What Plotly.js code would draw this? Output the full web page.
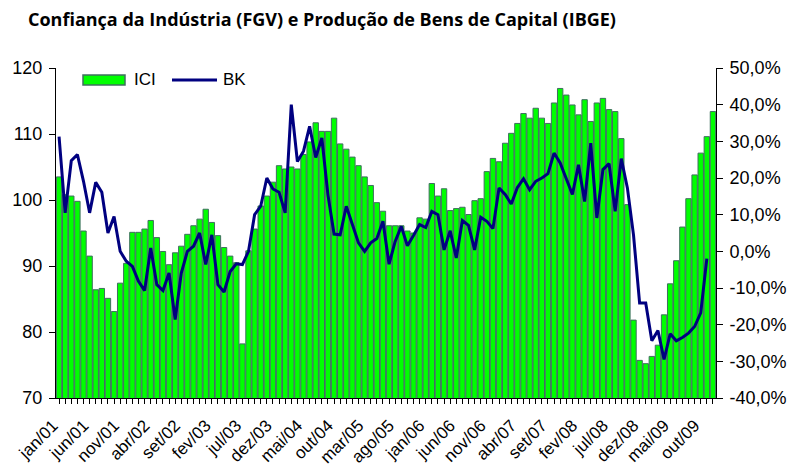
<!DOCTYPE html>
<html>
<head>
<meta charset="utf-8">
<script src="https://cdn.plot.ly/plotly-3.0.1.min.js"></script>
<style>html,body{margin:0;padding:0;background:#fff;}#chart{width:788px;height:468px;}</style>
</head>
<body>
<div id="chart"></div>
<script>
// Month names and years used to build the monthly categories (jan/01 .. dez/09)
var monthNames = ["jan","fev","mar","abr","mai","jun","jul","ago","set","out","nov","dez"];
var years = ["01","02","03","04","05","06","07","08","09"];

// ICI - Índice de Confiança da Indústria (FGV), left axis
var ici = [
  103.5,100.8,100.6,99.8,95.3,91.5,86.4,86.6,85.1,83.1,87.4,90.4,
  95.1,95.1,95.6,96.9,94.3,92.2,90.2,92.0,93.0,94.8,96.1,97.1,
  98.6,96.6,94.6,92.8,91.5,90.5,78.2,92.3,95.6,99.1,100.6,102.7,
  105.2,104.7,105.0,104.7,106.9,108.8,111.7,110.4,110.4,112.4,108.5,107.7,
  106.5,105.2,103.5,102.2,99.6,98.3,96.1,96.1,96.1,95.3,95.0,97.3,
  97.1,102.5,100.6,101.7,98.4,98.7,98.9,97.8,99.9,100.2,104.3,106.3,
  105.8,108.6,110.1,111.6,113.1,112.4,113.9,112.4,111.6,114.7,116.9,115.9,
  114.4,112.9,115.2,111.9,114.7,115.4,113.7,113.4,109.3,99.3,81.8,75.7,
  75.2,76.3,78.0,82.6,87.3,90.8,95.9,100.2,103.8,107.1,109.6,113.4
];

// BK - Produção de Bens de Capital (IBGE), % change, right axis (no value for dez/09)
var bk = [
  31.3,10.5,24.7,26.4,19.1,10.5,18.8,16.1,5.0,9.5,0.0,-2.7,
  -4.1,-8.2,-10.7,0.9,-9.1,-10.7,-5.9,-18.6,-5.9,0.0,1.4,5.0,
  -3.6,4.5,-9.1,-11.1,-5.5,-3.4,-3.6,0.0,10.0,12.3,20.0,17.0,
  16.1,10.5,40.0,24.5,27.3,34.1,25.6,30.9,15.4,4.7,4.5,12.3,
  7.3,2.3,0.0,2.3,3.5,8.2,-3.5,2.7,6.8,1.5,4.3,7.3,
  6.5,10.9,10.0,0.4,5.6,-1.8,8.4,7.1,0.4,9.3,8.2,6.2,
  17.3,15.5,12.9,17.4,19.8,16.8,19.1,20.0,21.2,26.8,24.1,19.5,
  15.5,23.6,13.6,29.5,9.1,22.3,23.9,10.9,25.3,17.3,4.5,-14.1,
  -14.1,-24.4,-21.6,-29.5,-22.5,-24.4,-23.5,-22.3,-20.5,-16.8,-2.0,null
];

// Tick labels shown on the category axis (every 5 months)
var xTickLabels = ["jan/01","jun/01","nov/01","abr/02","set/02","fev/03","jul/03","dez/03",
  "mai/04","out/04","mar/05","ago/05","jan/06","jun/06","nov/06","abr/07","set/07",
  "fev/08","jul/08","dez/08","mai/09","out/09"];

var leftTicks = [70,80,90,100,110,120];
var rightTicks = [-40,-30,-20,-10,0,10,20,30,40,50];
var rightTickLabels = ["-40,0%","-30,0%","-20,0%","-10,0%","0,0%","10,0%","20,0%","30,0%","40,0%","50,0%"];

var seriesNames = ["ICI","BK"];
var barColor = "#00FF00", barEdge = "#3F6F5F", lineColor = "#000080";

var categories = [];
years.forEach(function(y){ monthNames.forEach(function(m){ categories.push(m + "/" + y); }); });
var tickText = categories.map(function(c){ return xTickLabels.indexOf(c) >= 0 ? c : ""; });

var fontFam = "Liberation Sans, Arial, sans-serif";
var tickFont = {family: fontFam, size: 18, color: "#000"};
var xTickFont = {family: fontFam, size: 17, color: "#000"};

var traces = [
  {
    type: "bar", name: seriesNames[0], x: categories, y: ici,
    marker: {color: barColor, line: {color: barEdge, width: 1}},
    yaxis: "y", showlegend: false
  },
  {
    type: "scatter", mode: "lines", name: seriesNames[1], x: categories, y: bk,
    line: {color: lineColor, width: 3}, yaxis: "y2", connectgaps: false, showlegend: false
  }
];

// plot-area geometry helpers for the hand-drawn legend (paper coordinates)
var L = 56, R = 716, T = 68, B = 398.5;
function px(x){ return (x - L) / (R - L); }
function py(y){ return (B - y) / (B - T); }

var layout = {
  width: 788, height: 468,
  margin: {l: 56, r: 72, t: 68, b: 69.5, pad: 0},
  paper_bgcolor: "#fff", plot_bgcolor: "#fff",
  bargap: 0.12,
  showlegend: false,
  title: {
    text: "Confiança da Indústria (FGV) e Produção de Bens de Capital (IBGE)",
    font: {family: "Open Sans, sans-serif", size: 18, color: "#000", weight: "bold"},
    xref: "container", yref: "container", x: 28/788, xanchor: "left", y: 1 - 20/468, yanchor: "middle"
  },
  shapes: [
    {type: "rect", xref: "paper", yref: "paper", x0: px(83), x1: px(125), y0: py(85), y1: py(75),
     fillcolor: barColor, line: {color: barEdge, width: 1.5}},
    {type: "line", xref: "paper", yref: "paper", x0: px(172), x1: px(217), y0: py(80), y1: py(80),
     line: {color: lineColor, width: 3}}
  ],
  annotations: [
    {xref: "paper", yref: "paper", x: px(132), y: py(80), xanchor: "left", yanchor: "middle",
     text: seriesNames[0], showarrow: false, font: {family: fontFam, size: 17, color: "#000"}},
    {xref: "paper", yref: "paper", x: px(221), y: py(80), xanchor: "left", yanchor: "middle",
     text: seriesNames[1], showarrow: false, font: {family: fontFam, size: 17, color: "#000"}}
  ],
  xaxis: {
    type: "category", tickmode: "array", tickvals: categories, ticktext: tickText,
    tickangle: -45, tickfont: xTickFont, ticks: "outside", ticklen: 5, tickcolor: "#000", tickwidth: 1,
    ticklabelstandoff: 5, ticklabelshift: -6,
    showline: true, linecolor: "#000", linewidth: 1, showgrid: false, zeroline: false,
    range: [-0.5, categories.length - 0.5], automargin: false
  },
  yaxis: {
    range: [70, 120], tickmode: "array", tickvals: leftTicks, tickfont: tickFont,
    ticks: "outside", ticklen: 6, tickcolor: "#000", showline: true, linecolor: "#000", linewidth: 1,
    ticklabelstandoff: 3,
    showgrid: false, zeroline: false, automargin: false
  },
  yaxis2: {
    range: [-40, 50], overlaying: "y", side: "right", tickmode: "array",
    tickvals: rightTicks, ticktext: rightTickLabels, tickfont: tickFont,
    ticks: "outside", ticklen: 6, tickcolor: "#000", showline: true, linecolor: "#000", linewidth: 1,
    ticklabelstandoff: 3,
    showgrid: false, zeroline: false, automargin: false
  }
};

Plotly.newPlot("chart", traces, layout, {displayModeBar: false, staticPlot: true});
</script>
</body>
</html>
